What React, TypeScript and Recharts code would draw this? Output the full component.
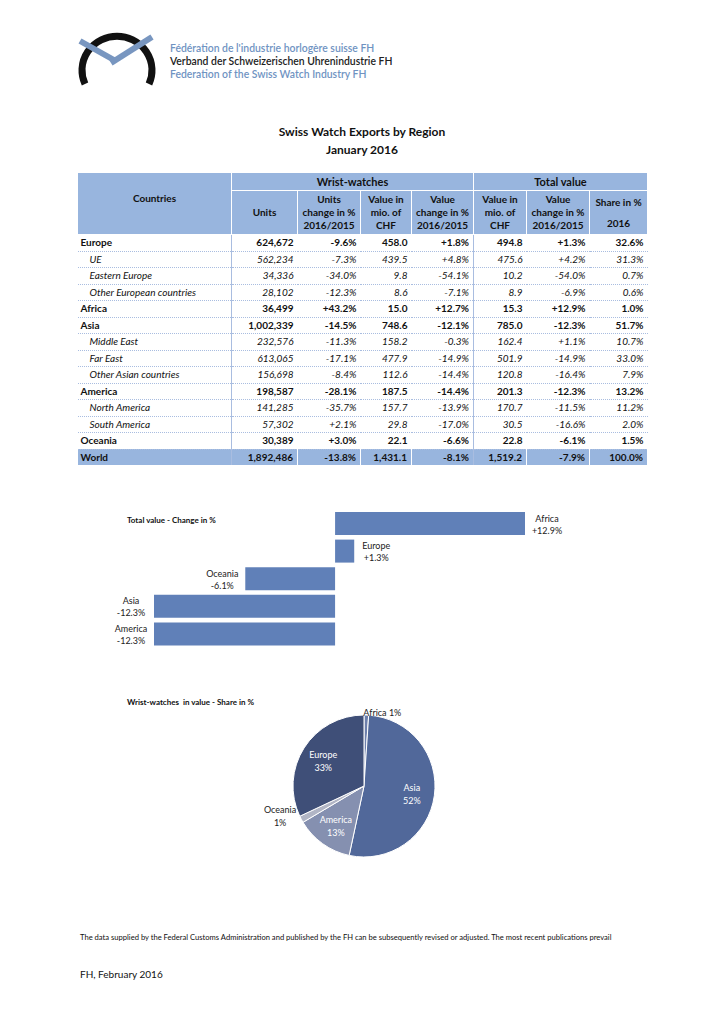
import { Bar, BarChart, Cell, LabelList, Pie, PieChart, XAxis, YAxis } from 'recharts';

// table data
const regionNames = [
  'Europe', 'UE', 'Eastern Europe', 'Other European countries', 'Africa', 'Asia',
  'Middle East', 'Far East', 'Other Asian countries', 'America', 'North America',
  'South America', 'Oceania', 'World',
];
const regionLevels = [0, 1, 1, 1, 0, 0, 1, 1, 1, 0, 1, 1, 0, 2];
const units = [
  '624,672', '562,234', '34,336', '28,102', '36,499', '1,002,339', '232,576', '613,065',
  '156,698', '198,587', '141,285', '57,302', '30,389', '1,892,486',
];
const unitsChange = [
  '-9.6%', '-7.3%', '-34.0%', '-12.3%', '+43.2%', '-14.5%', '-11.3%', '-17.1%', '-8.4%',
  '-28.1%', '-35.7%', '+2.1%', '+3.0%', '-13.8%',
];
const wristValue = [
  '458.0', '439.5', '9.8', '8.6', '15.0', '748.6', '158.2', '477.9', '112.6', '187.5',
  '157.7', '29.8', '22.1', '1,431.1',
];
const wristValueChange = [
  '+1.8%', '+4.8%', '-54.1%', '-7.1%', '+12.7%', '-12.1%', '-0.3%', '-14.9%', '-14.4%',
  '-14.4%', '-13.9%', '-17.0%', '-6.6%', '-8.1%',
];
const totalValue = [
  '494.8', '475.6', '10.2', '8.9', '15.3', '785.0', '162.4', '501.9', '120.8', '201.3',
  '170.7', '30.5', '22.8', '1,519.2',
];
const totalValueChange = [
  '+1.3%', '+4.2%', '-54.0%', '-6.9%', '+12.9%', '-12.3%', '+1.1%', '-14.9%', '-16.4%',
  '-12.3%', '-11.5%', '-16.6%', '-6.1%', '-7.9%',
];
const share2016 = [
  '32.6%', '31.3%', '0.7%', '0.6%', '1.0%', '51.7%', '10.7%', '33.0%', '7.9%', '13.2%',
  '11.2%', '2.0%', '1.5%', '100.0%',
];

// bar chart data
const barRegions = ['Africa', 'Europe', 'Oceania', 'Asia', 'America'];
const barChanges = [12.9, 1.3, -6.1, -12.3, -12.3];

// pie chart data (wrist-watch values, mio CHF)
const pieRegions = ['Africa', 'Asia', 'America', 'Oceania', 'Europe'];
const pieValues = [15.0, 748.6, 187.5, 22.1, 458.0];
const pieLabelPct = [1, 52, 13, 1, 33];
const pieColors = ['#6d7fab', '#51689a', '#8590b0', '#b1b5c5', '#3f4f78'];

const FONT = 'Lato, "Open Sans", sans-serif';
const HEAD_BG = '#98b5de';
const LINE = '#a9bde0';
const colWidths = [154, 66, 63, 51, 62, 53, 63, 58];

const barData = barRegions.map((name, i) => ({ name, value: barChanges[i] }));
const pieData = pieRegions.map((name, i) => ({ name, value: pieValues[i] }));

function fmtChange(v: number) {
  return (v > 0 ? '+' : '') + v.toFixed(1) + '%';
}

function BarLabel(props: any) {
  const { x, y, width, height, index } = props;
  const v = barChanges[index];
  const left = Math.min(x, x + width);
  const right = Math.max(x, x + width);
  const cx = v >= 0 ? right + 22 : left - 23;
  const cy = y + height / 2;
  return (
    <text x={cx} textAnchor="middle" fontSize={9} fill="#222" fontFamily={FONT}>
      <tspan x={cx} y={cy - 2}>{barRegions[index]}</tspan>
      <tspan x={cx} y={cy + 10}>{fmtChange(v)}</tspan>
    </text>
  );
}

const RAD = Math.PI / 180;
function PieLabel(props: any) {
  const { cx, cy, midAngle, outerRadius, index } = props;
  const total = pieValues.reduce((a, b) => a + b, 0);
  const small = pieValues[index] / total < 0.05;
  const color = small ? '#222' : '#fff';
  if (index === 0) {
    const px = cx + outerRadius * Math.cos(-midAngle * RAD);
    const py = cy + outerRadius * Math.sin(-midAngle * RAD);
    return (
      <text x={px - 3} y={py + 1} textAnchor="start" fontSize={9} fill={color} fontFamily={FONT}>
        {`${pieRegions[index]} ${pieLabelPct[index]}%`}
      </text>
    );
  }
  const r = small ? outerRadius + 24 : outerRadius * 0.68;
  const px = cx + r * Math.cos(-midAngle * RAD);
  const py = cy + r * Math.sin(-midAngle * RAD) - (small ? 16 : 0);
  return (
    <text x={px} textAnchor="middle" fontSize={9} fill={color} fontFamily={FONT}>
      <tspan x={px} y={py - 2}>{pieRegions[index]}</tspan>
      <tspan x={px} y={py + 11}>{`${pieLabelPct[index]}%`}</tspan>
    </text>
  );
}

function Logo() {
  return (
    <div style={{ position: 'absolute', left: 76, top: 30, width: 330, height: 60 }}>
      <svg width={90} height={60} style={{ position: 'absolute', left: 0, top: 0 }}>
        <path d="M 9 54 A 35 34 0 1 1 73 54" fill="none" stroke="#111" strokeWidth={7} />
        <line x1={4} y1={11} x2={38} y2={30} stroke="#7896c0" strokeWidth={6} />
        <line x1={76} y1={7} x2={35} y2={33} stroke="#7896c0" strokeWidth={6} />
      </svg>
      <div style={{ position: 'absolute', left: 94, top: 12, fontSize: 10.4, lineHeight: '13px', fontFamily: FONT, fontWeight: 600, whiteSpace: 'nowrap' }}>
        <div style={{ color: '#6f93c2' }}>Fédération de l'industrie horlogère suisse FH</div>
        <div style={{ color: '#222' }}>Verband der Schweizerischen Uhrenindustrie FH</div>
        <div style={{ color: '#6f93c2' }}>Federation of the Swiss Watch Industry FH</div>
      </div>
    </div>
  );
}

function DataTable() {
  const th: React.CSSProperties = {
    background: HEAD_BG,
    border: '1px solid #fff',
    fontWeight: 700,
    fontSize: 10,
    lineHeight: '13px',
    padding: 0,
    color: '#111',
  };
  const cols = [units, unitsChange, wristValue, wristValueChange, totalValue, totalValueChange, share2016];
  return (
    <table
      style={{
        position: 'absolute', left: 77, top: 172, width: 570, borderCollapse: 'collapse',
        tableLayout: 'fixed', fontFamily: FONT, fontSize: 10, color: '#111',
      }}
    >
      <colgroup>
        {colWidths.map((w, i) => <col key={i} style={{ width: w }} />)}
      </colgroup>
      <thead>
        <tr style={{ height: 18 }}>
          <th rowSpan={2} style={{ ...th, verticalAlign: 'top', paddingTop: 19 }}>Countries</th>
          <th colSpan={4} style={{ ...th, fontSize: 11 }}>Wrist-watches</th>
          <th colSpan={3} style={{ ...th, fontSize: 11 }}>Total value</th>
        </tr>
        <tr style={{ height: 44 }}>
          <th style={{ ...th, verticalAlign: 'middle' }}>Units</th>
          <th style={th}>Units<br />change in %<br />2016/2015</th>
          <th style={th}>Value in<br />mio. of<br />CHF</th>
          <th style={th}>Value<br />change in %<br />2016/2015</th>
          <th style={th}>Value in<br />mio. of<br />CHF</th>
          <th style={th}>Value<br />change in %<br />2016/2015</th>
          <th style={th}>Share in %<br /><div style={{ height: 8 }} />2016</th>
        </tr>
      </thead>
      <tbody>
        {regionNames.map((name, r) => {
          const lvl = regionLevels[r];
          const bold = lvl !== 1;
          const bg = lvl === 2 ? HEAD_BG : 'transparent';
          const base: React.CSSProperties = {
            height: 15.5,
            padding: 0,
            lineHeight: '15px',
            background: bg,
            fontWeight: bold ? 700 : 400,
            fontStyle: lvl === 1 ? 'italic' : 'normal',
            borderBottom: lvl === 2 ? 'none' : `1px dotted ${LINE}`,
            whiteSpace: 'nowrap',
          };
          return (
            <tr key={name}>
              <td style={{ ...base, paddingLeft: lvl === 1 ? 12 : 3, borderRight: `1px solid ${LINE}` }}>{name}</td>
              {cols.map((c, ci) => (
                <td
                  key={ci}
                  style={{
                    ...base,
                    textAlign: 'right',
                    paddingRight: 4,
                    borderRight: ci === 3 ? `1px solid ${LINE}` : lvl === 2 ? '1px solid #fff' : 'none',
                  }}
                >
                  {c[r]}
                </td>
              ))}
            </tr>
          );
        })}
      </tbody>
    </table>
  );
}

export default function App() {
  return (
    <div style={{ position: 'absolute', left: 0, top: 0, width: 724, height: 1024, background: '#fff', fontFamily: FONT }}>
      <Logo />
      <div style={{ position: 'absolute', left: 0, top: 123, width: 724, textAlign: 'center', fontWeight: 700, fontSize: 12, lineHeight: '18px', color: '#111' }}>
        <div>Swiss Watch Exports by Region</div>
        <div>January 2016</div>
      </div>
      <DataTable />

      <div style={{ position: 'absolute', left: 127, top: 515, fontSize: 8, fontWeight: 700, color: '#111' }}>
        Total value - Change in %
      </div>
      <div style={{ position: 'absolute', left: 100, top: 500 }}>
        <BarChart
          width={480}
          height={160}
          data={barData}
          layout="vertical"
          margin={{ top: 10, right: 55, bottom: 12, left: 54 }}
          barCategoryGap={4}
        >
          <XAxis type="number" hide domain={['dataMin', 'dataMax']} />
          <YAxis type="category" dataKey="name" hide />
          <Bar dataKey="value" fill="#6080b8" isAnimationActive={false} barSize={23}>
            <LabelList dataKey="value" content={BarLabel} />
          </Bar>
        </BarChart>
      </div>

      <div style={{ position: 'absolute', left: 127, top: 697, fontSize: 8, fontWeight: 700, color: '#111', whiteSpace: 'pre' }}>
        {'Wrist-watches  in value - Share in %'}
      </div>
      <div style={{ position: 'absolute', left: 259, top: 681 }}>
        <PieChart width={200} height={200}>
          <Pie
            data={pieData}
            dataKey="value"
            nameKey="name"
            cx={100}
            cy={100}
            outerRadius={71}
            startAngle={90}
            endAngle={-270}
            stroke="#fff"
            strokeWidth={1}
            label={PieLabel}
            labelLine={false}
            isAnimationActive={false}
          >
            {pieData.map((d, i) => (
              <Cell key={d.name} fill={pieColors[i]} />
            ))}
          </Pie>
        </PieChart>
      </div>

      <div style={{ position: 'absolute', left: 80, top: 932, fontSize: 7.6, color: '#111', whiteSpace: 'nowrap' }}>
        The data supplied by the Federal Customs Administration and published by the FH can be subsequently revised or adjusted. The most recent publications prevail
      </div>
      <div style={{ position: 'absolute', left: 80, top: 968, fontSize: 10, color: '#111' }}>
        FH, February 2016
      </div>
    </div>
  );
}
